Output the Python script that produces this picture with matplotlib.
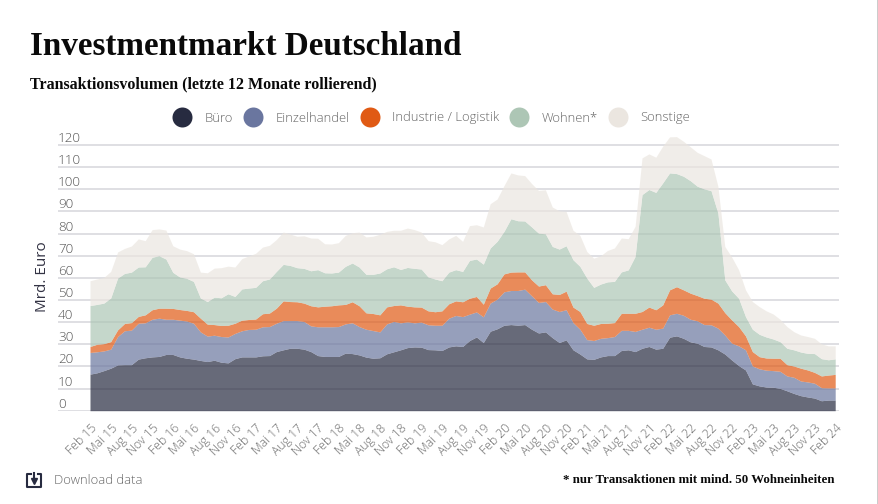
import numpy as np
import matplotlib
matplotlib.use('Agg')
import matplotlib.pyplot as plt
from matplotlib.lines import Line2D
from matplotlib.patches import Rectangle

# Upper edge of each stacked band (Mrd. Euro), monthly from Feb 15 to Feb 24
buero = [16.5, 17.1, 18.1, 19.2, 20.7, 20.8, 20.8, 23.3, 23.9, 24.3, 24.5, 25.4, 25.4, 24.3, 23.7, 23.3, 22.7, 22.2,
         22.8, 21.9, 21.6, 23.5, 24.3, 24.3, 24.3, 24.8, 24.9,
         26.7, 27.5, 28.2, 28.2, 27.8, 26.7, 24.9, 24.5, 24.5, 24.5, 26.0, 25.8, 25.2, 24.2, 23.7, 23.9, 25.7,
         26.6, 27.5, 28.5, 28.8, 28.7, 27.6, 27.5, 27.2, 28.8, 29.3,
         29.0, 31.7, 33.3, 30.8, 35.9, 37.0, 38.6, 38.9, 38.6, 38.9, 36.8, 35.1, 35.6, 33.0, 30.8, 32.0, 27.5,
         25.6, 23.4, 23.2, 24.3, 24.9, 24.9, 27.2, 27.5, 26.7,
         28.2, 29.0, 27.8, 28.2, 33.2, 33.8, 32.7, 31.1, 30.5, 29.0, 28.8, 27.5, 25.6, 22.9, 20.4, 18.4, 12.1,
         11.2, 10.7, 10.6, 10.1, 9.0, 7.8, 6.8, 6.2, 5.7, 4.5, 4.8, 4.8]
einzelhandel = [26.3, 26.6, 27.0, 27.8, 33.5, 36.1, 36.4, 39.5, 39.7, 41.3, 41.8, 41.3, 41.3, 40.9, 40.5, 39.5, 35.6,
                33.7, 34.1, 33.5, 33.3, 34.9, 36.1, 36.7, 36.8, 37.9, 38.0,
                39.5, 40.7, 40.7, 40.7, 40.3, 38.3, 37.9, 37.9, 37.9, 38.0, 39.2, 39.7, 38.0, 36.8, 36.2, 35.6, 39.2,
                40.3, 39.7, 40.1, 39.7, 40.0, 38.8, 38.6, 38.6, 41.8, 43.0,
                42.5, 43.6, 44.6, 42.4, 48.6, 50.4, 53.7, 54.3, 54.3, 54.9, 51.9, 48.9, 49.3, 45.9, 44.8, 45.6, 39.8,
                36.8, 32.1, 31.7, 32.7, 33.0, 33.5, 36.3, 36.3, 35.8,
                36.8, 37.7, 36.8, 37.3, 43.3, 44.0, 43.1, 41.3, 40.6, 38.9, 38.8, 37.3, 34.2, 30.5, 29.3, 27.5, 20.2,
                18.9, 18.3, 18.1, 17.8, 15.7, 15.1, 13.4, 13.0, 12.4, 10.4, 10.3, 10.3]
industrie = [29.0, 30.0, 30.3, 31.2, 36.5, 39.4, 39.8, 42.6, 43.3, 45.6, 46.3, 46.3, 46.2, 45.7, 45.3, 44.7, 41.8,
             39.1, 38.9, 38.5, 38.6, 39.5, 40.9, 41.2, 41.4, 43.8, 44.1,
             46.3, 49.6, 49.3, 49.2, 48.6, 47.4, 46.9, 47.2, 47.4, 47.8, 48.0, 49.2, 47.4, 44.2, 43.9, 43.3, 46.9,
             47.5, 47.8, 47.2, 46.9, 46.8, 45.1, 44.7, 45.1, 48.3, 49.6,
             49.2, 50.8, 51.6, 48.1, 55.4, 57.3, 61.8, 62.6, 62.7, 62.7, 59.1, 56.3, 56.9, 52.8, 52.5, 54.0, 46.8,
             44.8, 39.4, 38.6, 39.4, 39.5, 39.8, 44.0, 44.0, 44.0,
             44.8, 46.8, 45.6, 47.8, 54.6, 56.0, 54.6, 53.1, 52.0, 50.8, 50.4, 48.6, 44.3, 41.0, 38.0, 33.8, 26.7,
             24.4, 23.8, 23.7, 23.7, 20.8, 20.2, 19.2, 18.4, 17.3, 15.7, 16.1, 16.4]
wohnen = [47.5, 48.0, 48.6, 50.9, 59.9, 62.0, 62.6, 64.9, 65.0, 69.3, 70.0, 68.5, 62.5, 60.4, 59.8, 58.4, 50.9,
          49.3, 51.3, 51.0, 52.8, 51.6, 55.0, 55.4, 55.7, 58.7, 59.5,
          62.9, 66.1, 65.6, 64.6, 64.3, 63.2, 63.7, 62.3, 62.2, 62.6, 65.2, 66.7, 64.9, 61.6, 61.6, 62.2, 64.1,
          65.0, 63.8, 64.7, 64.3, 64.0, 60.4, 59.5, 58.7, 62.6, 63.7,
          62.9, 67.9, 68.5, 66.2, 73.5, 76.5, 81.0, 86.7, 85.8, 85.7, 83.0, 80.2, 79.9, 74.2, 73.0, 74.5, 68.2,
          65.2, 59.9, 55.7, 57.2, 58.2, 58.4, 62.7, 63.6, 69.7,
          97.6, 99.9, 98.6, 102.9, 107.4, 107.1, 105.9, 103.9, 101.4, 100.2, 99.4, 89.3, 59.1, 54.1, 50.8, 42.5, 36.8,
          34.5, 33.3, 32.4, 31.2, 28.2, 27.5, 26.5, 25.9, 25.8, 23.5, 23.0, 23.4]
sonstige = [58.7, 59.5, 60.2, 62.9, 71.7, 73.3, 74.4, 77.6, 76.8, 81.8, 82.1, 81.6, 74.5, 73.0, 72.3, 70.9, 62.6,
            62.3, 64.4, 64.6, 65.3, 64.9, 68.7, 69.9, 71.1, 73.9, 74.7,
            77.3, 80.7, 79.8, 78.8, 79.0, 78.0, 77.9, 75.4, 75.3, 75.9, 79.2, 80.4, 80.7, 78.5, 78.8, 79.7, 81.0,
            81.5, 81.5, 82.5, 81.8, 80.7, 76.8, 76.3, 75.0, 77.6, 79.2,
            76.5, 83.6, 84.0, 83.0, 93.5, 95.6, 101.7, 107.4, 106.5, 106.2, 102.6, 99.5, 99.8, 92.0, 90.3, 90.0, 81.5,
            79.2, 71.9, 68.9, 70.0, 72.4, 73.5, 78.0, 77.7, 83.3,
            114.2, 116.0, 114.5, 119.5, 123.7, 123.8, 121.7, 119.2, 116.7, 115.2, 113.7, 101.4, 74.2, 69.4, 63.7, 54.6,
            49.3, 47.0, 45.1, 43.7, 41.3, 38.0, 35.7, 34.2, 33.5, 32.7, 30.2, 29.3, 29.3]

names = ['Büro', 'Einzelhandel', 'Industrie / Logistik', 'Wohnen*', 'Sonstige']
colors = ['#272b40', '#6a769f', '#e05a14', '#adc6b5', '#ebe6e0']
y_ticks = list(range(0, 130, 10))
x_labels = ['Feb 15', 'Mai 15', 'Aug 15', 'Nov 15', 'Feb 16', 'Mai 16', 'Aug 16', 'Nov 16', 'Feb 17', 'Mai 17',
            'Aug 17', 'Nov 17', 'Feb 18', 'Mai 18', 'Aug 18', 'Nov 18', 'Feb 19', 'Mai 19', 'Aug 19', 'Nov 19',
            'Feb 20', 'Mai 20', 'Aug 20', 'Nov 20', 'Feb 21', 'Mai 21', 'Aug 21', 'Nov 21', 'Feb 22', 'Mai 22',
            'Aug 22', 'Nov 22', 'Feb 23', 'Mai 23', 'Aug 23', 'Nov 23', 'Feb 24']

W, H = 879, 504
SANS = 'Open Sans'
SERIF = 'Liberation Serif'


def fx(px):
    return px / W


def fy(py):
    return 1 - py / H


fig = plt.figure(figsize=(W / 100, H / 100), dpi=100)

# axes placed so that month 0 sits at x=90 px and 0 at y=410.7 px
px_month = 6.9
px_unit = 2.214
y_top = 126
ax = fig.add_axes([fx(58), fy(410.7), (839 - 58) / W, y_top * px_unit / H])
ax.set_xlim((58 - 90) / px_month, (839 - 90) / px_month)
ax.set_ylim(0, y_top)

months = np.arange(len(buero))
edges = [np.zeros(len(buero)), buero, einzelhandel, industrie, wohnen, sonstige]
for i, color in enumerate(colors):
    ax.fill_between(months, edges[i], edges[i + 1], color=color, alpha=0.7, lw=0, zorder=3)

for s in ax.spines.values():
    s.set_visible(False)

ax.set_yticks(y_ticks)
ax.set_yticklabels([])
ax.grid(axis='y', color='#d6d6db', lw=1.1, zorder=1)
ax.set_axisbelow(True)
ax.tick_params(axis='y', length=0)
for v in y_ticks:
    ax.annotate(str(v), (0, v), xycoords=ax.get_yaxis_transform(), xytext=(0, 0), textcoords='offset points',
                ha='left', va='bottom', fontsize=9.6, family=SANS, weight='light', color='#555555', zorder=5)

ax.set_xticks(months[::3])
ax.set_xticklabels(x_labels, rotation=45, ha='right', rotation_mode='anchor',
                   fontsize=8.8, family=SANS, weight='light', color='#666666')
ax.tick_params(axis='x', length=0, pad=8)

fig.text(fx(42), fy(277), 'Mrd. Euro', rotation=90, ha='center', va='center', fontsize=11, family=SANS,
         color='#333344')

# titles
fig.text(fx(30), fy(55), 'Investmentmarkt Deutschland', fontsize=23.9, family=SERIF, weight='bold', color='#0a0a0a')
fig.text(fx(30), fy(88), 'Transaktionsvolumen (letzte 12 Monate rollierend)', fontsize=11.5, family=SERIF,
         weight='bold', color='#0a0a0a')
fig.text(fx(835), fy(483), '* nur Transaktionen mit mind. 50 Wohneinheiten', fontsize=9.3, family=SERIF,
         weight='bold', color='#0a0a0a', ha='right')

# legend
handles = [Line2D([], [], ls='none', marker='o', ms=14.4, mfc=c, mec='none') for c in colors]
fig.legend(handles, names, loc='center', bbox_to_anchor=(fx(431.5), fy(118)), ncol=5, frameon=False,
           handletextpad=1.0, columnspacing=0.85, handlelength=1.4, labelcolor='#666666',
           prop={'family': SANS, 'weight': 'light', 'size': 9.4})

# download icon and text
icon = '#272b40'
for xs, ys in [([31, 27.5, 27.5, 41, 41, 37.5], [473.5, 473.5, 487, 487, 473.5, 473.5]), ([34, 34], [473, 480])]:
    fig.add_artist(Line2D([fx(x) for x in xs], [fy(y) for y in ys], color=icon, lw=1.5))
fig.add_artist(Line2D([fx(34)], [fy(481)], ls='none', marker='v', ms=4.5, color=icon))
fig.text(fx(54), fy(481), 'Download data', fontsize=9.4, family=SANS, weight='light', color='#666666', va='center')

# grey page edge on the right
fig.add_artist(Rectangle((fx(877), 0), fx(2), 1, transform=fig.transFigure, color='#cccccc', lw=0))

fig.savefig('out.png', dpi=100)
